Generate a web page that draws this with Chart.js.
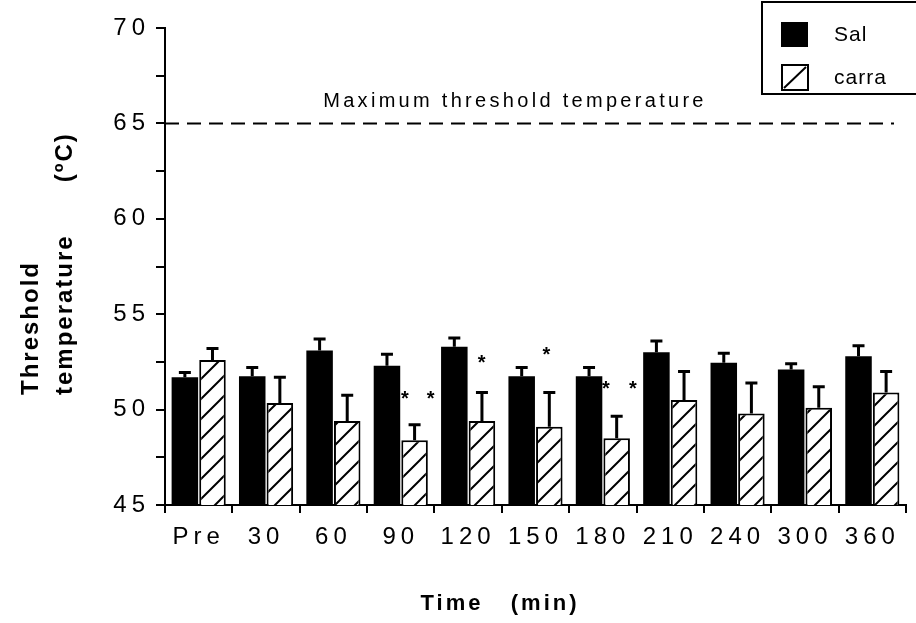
<!DOCTYPE html>
<html>
<head>
<meta charset="utf-8">
<script src="https://cdn.jsdelivr.net/npm/chart.js@4.4.1/dist/chart.umd.min.js"></script>
<style>
  html, body { margin: 0; padding: 0; background: #fff; }
  #wrap { width: 916px; height: 623px; }
</style>
</head>
<body>
<div id="wrap"><canvas id="Cnvs" width="916" height="623"></canvas></div>
<script>
// data
var labels = ['Pre', '30', '60', '90', '120', '150', '180', '210', '240', '300', '360'];
var salMean = [51.7, 51.75, 53.1, 52.3, 53.3, 51.75, 51.75, 53.0, 52.45, 52.1, 52.8];
var salErr = [0.25, 0.45, 0.6, 0.6, 0.45, 0.45, 0.45, 0.6, 0.5, 0.3, 0.55];
var carraMean = [52.6, 50.35, 49.4, 48.4, 49.4, 49.1, 48.5, 50.5, 49.8, 50.1, 50.9];
var carraErr = [0.6, 1.35, 1.35, 0.8, 1.5, 1.8, 1.15, 1.5, 1.6, 1.1, 1.1];
var maxThreshold = 65;
// significance marks: category index, shift inside category (fraction), value
var starCat = [3, 3, 4, 5, 6, 6];
var starShift = [0.06, 0.445, 0.2, 0.16, 0.045, 0.445];
var starVal = [50.8, 50.8, 52.7, 53.1, 51.3, 51.3];

var FONT = '"Liberation Sans", Arial, Helvetica, sans-serif';
var canvas = document.getElementById('Cnvs');
var ctx = canvas.getContext('2d');

function makeHatch() {
  var c = document.createElement('canvas');
  c.width = 20; c.height = 20;
  var g = c.getContext('2d');
  g.fillStyle = '#fff';
  g.fillRect(0, 0, 20, 20);
  g.strokeStyle = '#000';
  g.lineWidth = 2;
  g.beginPath();
  g.moveTo(0, 20); g.lineTo(20, 0);
  g.moveTo(-5, 5); g.lineTo(5, -5);
  g.moveTo(15, 25); g.lineTo(25, 15);
  g.stroke();
  return ctx.createPattern(c, 'repeat');
}
var hatch = makeHatch();

var spacing = {
  id: 'spacing',
  beforeLayout: function(chart) { chart.ctx.letterSpacing = '5px'; },
  beforeDraw: function(chart) { chart.ctx.letterSpacing = '5px'; }
};

var extras = {
  id: 'extras',
  afterDatasetsDraw: function(chart) {
    var c = chart.ctx, y = chart.scales.y, x = chart.scales.x;
    var area = chart.chartArea;
    c.save();
    // error bars (upper only)
    [[salMean, salErr], [carraMean, carraErr]].forEach(function(s, i) {
      var meta = chart.getDatasetMeta(i);
      meta.data.forEach(function(bar, j) {
        var top = y.getPixelForValue(s[0][j]);
        var tip = y.getPixelForValue(s[0][j] + s[1][j]);
        c.strokeStyle = '#000';
        c.lineWidth = 3;
        c.beginPath();
        c.moveTo(bar.x, top); c.lineTo(bar.x, tip);
        c.moveTo(bar.x - 6, tip); c.lineTo(bar.x + 6, tip);
        c.stroke();
      });
    });
    // dashed max line
    var y65 = y.getPixelForValue(maxThreshold);
    c.setLineDash([14, 8]);
    c.lineWidth = 2;
    c.beginPath();
    c.moveTo(area.left, y65); c.lineTo(area.right - 12, y65);
    c.stroke();
    c.setLineDash([]);
    c.fillStyle = '#000';
    c.letterSpacing = '3.3px';
    c.font = '20px ' + FONT;
    c.textAlign = 'center';
    c.textBaseline = 'alphabetic';
    c.fillText('Maximum threshold temperature', 515, y65 - 16);
    // stars
    var cw = x.getPixelForValue(1) - x.getPixelForValue(0);
    c.font = 'bold 20px ' + FONT;
    c.letterSpacing = '0px';
    c.textBaseline = 'middle';
    for (var k = 0; k < starCat.length; k++) {
      var sx = x.getPixelForValue(starCat[k]) + starShift[k] * cw;
      c.fillText('*', sx, y.getPixelForValue(starVal[k]) + 5);
    }
    c.restore();
  },
  afterDraw: function(chart) {
    var c = chart.ctx, area = chart.chartArea;
    c.save();
    c.fillStyle = '#000';
    c.letterSpacing = '3px';
    // axis titles
    c.font = 'bold 22px ' + FONT;
    c.textAlign = 'center';
    c.textBaseline = 'middle';
    c.fillText('Time   (min)', 500, 604);
    c.save();
    c.translate(31, area.bottom - 110);
    c.rotate(-Math.PI / 2);
    c.textAlign = 'left';
    c.font = 'bold 24px ' + FONT;
    c.letterSpacing = '2px';
    c.fillText('Threshold', 0, 0);
    c.fillText('temperature      (\u00baC)', 0, 34);
    c.restore();
    // legend
    c.letterSpacing = '1px';
    c.lineWidth = 2;
    c.strokeStyle = '#000';
    c.strokeRect(762, 2, 170, 92);
    c.fillRect(781, 22, 27, 25);
    c.fillStyle = '#fff';
    c.fillRect(782, 65, 26, 25);
    c.strokeRect(782, 65, 26, 25);
    c.beginPath();
    c.moveTo(784, 88); c.lineTo(806, 67);
    c.stroke();
    c.fillStyle = '#000';
    c.font = '21px ' + FONT;
    c.textAlign = 'left';
    c.textBaseline = 'middle';
    c.fillText('Sal', 834, 35);
    c.fillText('carra', 834, 78);
    c.restore();
  }
};

var chart = new Chart(canvas, {
  type: 'bar',
  data: {
    labels: labels,
    datasets: [
      { label: 'Sal', data: salMean, backgroundColor: '#000', borderColor: '#000', borderWidth: 0,
        categoryPercentage: 0.82, barPercentage: 0.96 },
      { label: 'carra', data: carraMean, backgroundColor: hatch, borderColor: '#000', borderWidth: 2,
        categoryPercentage: 0.82, barPercentage: 0.96 }
    ]
  },
  options: {
    responsive: false,
    animation: false,
    devicePixelRatio: 1,
    layout: { padding: { left: 0, right: 10, top: 28, bottom: 0 } },
    plugins: { legend: { display: false }, tooltip: { enabled: false } },
    scales: {
      x: {
        ticks: { color: '#000', font: { family: FONT, size: 24 }, padding: 10, maxRotation: 0, autoSkip: false },
        grid: { offset: true, drawOnChartArea: false, drawTicks: true, tickLength: 8, color: '#000', lineWidth: 2 },
        border: { color: '#000', width: 2 },
        afterFit: function(s) { s.height = 118; }
      },
      y: {
        min: 45, max: 70,
        ticks: { stepSize: 2.5, color: '#000', font: { family: FONT, size: 24 }, padding: 6,
          callback: function(v) { return v % 5 === 0 ? v : ''; } },
        grid: { drawOnChartArea: false, drawTicks: true, tickLength: 9, color: '#000', lineWidth: 2 },
        border: { color: '#000', width: 2 },
        afterFit: function(s) { s.width = 165; }
      }
    }
  },
  plugins: [spacing, extras]
});
</script>
</body>
</html>
